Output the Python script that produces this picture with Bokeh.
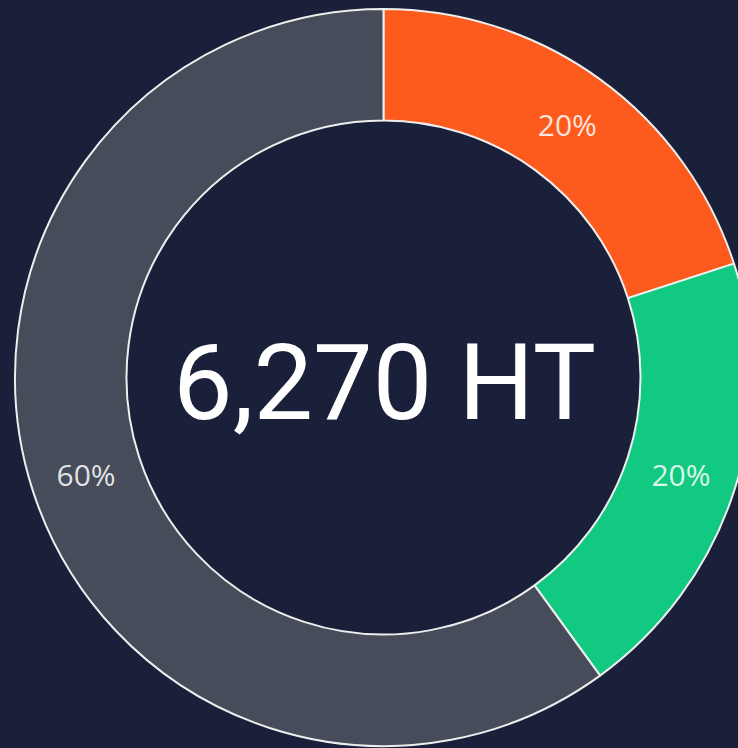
import math
from bokeh.plotting import figure
from bokeh.models import Range1d, ColumnDataSource
from bokeh.core.properties import value
from bokeh.embed import file_html
from bokeh.resources import INLINE

# ---- data ----
categories = ["Orange", "Green", "Gray"]
shares = [20, 20, 60]
colors = ["#fd5a1e", "#12c981", "#464c59"]
total_label = "6,270 HT"

BG = "#1a2039"
W, H = 738, 748
CX, CY = 383, 377          # donut centre in pixels from top-left of the plot
R_IN, R_OUT = 257, 368.5

total = float(sum(shares))
starts, ends, mids, labels = [], [], [], []
cum = 0.0
for s in shares:
    a0 = math.pi / 2 - 2 * math.pi * cum / total
    cum += s
    a1 = math.pi / 2 - 2 * math.pi * cum / total
    starts.append(a0)
    ends.append(a1)
    mids.append((a0 + a1) / 2)
    labels.append(f"{round(100 * s / total)}%")

r_mid = (R_IN + R_OUT) / 2
src = ColumnDataSource(dict(
    cat=categories, start=starts, end=ends, color=colors,
    lx=[r_mid * math.cos(m) for m in mids],
    ly=[r_mid * math.sin(m) for m in mids],
    label=labels,
))

p = figure(width=W, height=H, output_backend="svg", toolbar_location=None,
           x_range=Range1d(-CX, W - CX), y_range=Range1d(-(H - CY), CY),
           background_fill_color=BG, border_fill_color=BG, min_border=0)
p.axis.visible = False
p.grid.visible = False
p.outline_line_color = None

p.annular_wedge(x=0, y=0, inner_radius=R_IN, outer_radius=R_OUT,
                start_angle="start", end_angle="end", direction="clock",
                fill_color="color", line_color="#eeeeee", line_width=2,
                source=src)

p.text(x="lx", y="ly", text="label", source=src,
       text_font=value("Open Sans"), text_font_size="30px",
       text_color="white", text_alpha=0.85,
       text_align="center", text_baseline="middle")

p.text(x=[0], y=[0], text=[total_label], x_offset=1, y_offset=5,
       text_font=value("Roboto"), text_font_size="106px",
       text_color="white", text_align="center", text_baseline="middle")

html = file_html(p, INLINE)
html = html.replace("<head>", "<head><style>body{background:%s;}</style>" % BG, 1)
open("out.html", "w").write(html)
